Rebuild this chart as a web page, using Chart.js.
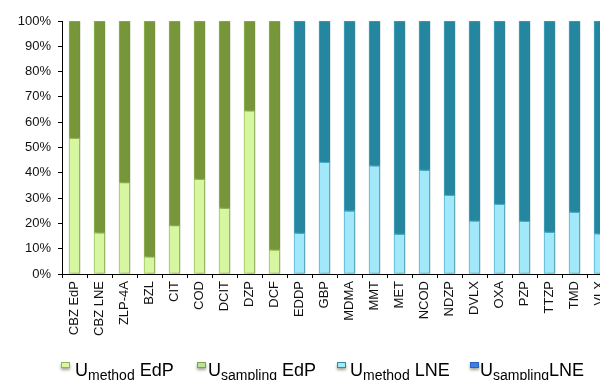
<!DOCTYPE html>
<html>
<head>
<meta charset="utf-8">
<script src="https://cdn.jsdelivr.net/npm/chart.js@4/dist/chart.umd.min.js"></script>
<style>
  html, body { margin: 0; padding: 0; background: #fff; overflow: hidden; width: 600px; height: 380px; }
  #wrap { position: relative; width: 640px; height: 380px; }
  #legend { position: absolute; left: 0; top: 0; width: 600px; height: 380px; pointer-events: none;
            font-family: "Liberation Sans", Arial, sans-serif; color: #000; }
  .item { position: absolute; top: 361px; font-size: 18px; line-height: 18px; white-space: nowrap; }
  .item sub { font-size: 14px; vertical-align: -4px; line-height: 0; }
  .mark { position: absolute; top: 362px; width: 7px; height: 4px; border: 1px solid; 
          box-shadow: 0 2px 3px rgba(40,60,20,0.45); }
</style>
</head>
<body>
<div id="wrap">
  <canvas id="c" width="640" height="380"></canvas>
  <div id="legend">
    <div class="mark" style="left:61px;background:#d9f7a6;border-color:#8fb552;"></div>
    <div class="item" style="left:75px;">U<sub>method</sub> EdP</div>
    <div class="mark" style="left:197px;background:#b9e29a;border-color:#7ea04a;"></div>
    <div class="item" style="left:208px;">U<sub>sampling</sub> EdP</div>
    <div class="mark" style="left:337px;background:#a4e9f9;border-color:#2b8ea6;"></div>
    <div class="item" style="left:350px;">U<sub>method</sub> LNE</div>
    <div class="mark" style="left:470px;background:#3f7fe0;border-color:#2d62c4;"></div>
    <div class="item" style="left:480px;">U<sub>sampling</sub>LNE</div>
  </div>
</div>
<script>
const categories = ["CBZ EdP", "CBZ LNE", "ZLP-4A", "BZL", "CIT", "COD", "DCIT", "DZP", "DCF",
  "EDDP", "GBP", "MDMA", "MMT", "MET", "NCOD", "NDZP", "DVLX", "OXA", "PZP", "TTZP", "TMD", "VLX"];

// share of each uncertainty component, in %
const uMethodEdP   = [53.6, 16.3, 36.1, 6.8, 19.1, 37.4, 26.0, 64.5, 9.5,
  null, null, null, null, null, null, null, null, null, null, null, null, null];
const uSamplingEdP = [46.4, 83.7, 63.9, 93.2, 80.9, 62.6, 74.0, 35.5, 90.5,
  null, null, null, null, null, null, null, null, null, null, null, null, null];
const uMethodLNE   = [null, null, null, null, null, null, null, null, null,
  16.1, 44.1, 24.9, 42.8, 15.7, 41.0, 31.1, 20.9, 27.5, 20.8, 16.5, 24.4, 15.9];
const uSamplingLNE = [null, null, null, null, null, null, null, null, null,
  83.9, 55.9, 75.1, 57.2, 84.3, 59.0, 68.9, 79.1, 72.5, 79.2, 83.5, 75.6, 84.1];

const yTicks = [0, 10, 20, 30, 40, 50, 60, 70, 80, 90, 100];

const font = { family: "'Liberation Sans', Arial, sans-serif", size: 13 };

// soft shadow to the right of every bar
const barShadow = {
  id: 'barShadow',
  beforeDatasetsDraw(chart) {
    const ctx = chart.ctx;
    ctx.save();
    ctx.shadowColor = 'rgba(0,0,0,0.22)';
    ctx.shadowBlur = 2;
    ctx.shadowOffsetX = 2;
    ctx.shadowOffsetY = 0;
  },
  afterDatasetsDraw(chart) {
    chart.ctx.restore();
  }
};

const bar = (label, data, fill, edge) => ({
  label, data, backgroundColor: fill, borderColor: edge, borderWidth: 1,
  borderSkipped: false, barThickness: 11, stack: 's'
});

new Chart(document.getElementById('c'), {
  type: 'bar',
  data: {
    labels: categories,
    datasets: [
      bar('Umethod EdP', uMethodEdP, '#d6f6a0', '#9cc05c'),
      bar('Usampling EdP', uSamplingEdP, '#779539', '#94b854'),
      bar('Umethod LNE', uMethodLNE, '#a1e8fa', '#4eb2cb'),
      bar('Usampling LNE', uSamplingLNE, '#25879f', '#46a6bf')
    ]
  },
  options: {
    responsive: false,
    animation: false,
    events: [],
    layout: { padding: { top: 21, right: 28, left: 0, bottom: 0 } },
    plugins: { legend: { display: false }, tooltip: { enabled: false } },
    scales: {
      x: {
        stacked: true,
        grid: { drawOnChartArea: false, color: '#000', tickLength: 4, offset: true },
        border: { color: '#000', width: 1 },
        ticks: { color: '#111', font, minRotation: 90, maxRotation: 90, padding: 3, autoSkip: false },
        afterFit(scale) { scale.height = 106; }
      },
      y: {
        stacked: true,
        min: 0, max: 100,
        afterBuildTicks(scale) { scale.ticks = yTicks.map(v => ({ value: v })); },
        grid: { drawOnChartArea: false, color: '#000', tickLength: 4 },
        border: { color: '#000', width: 1 },
        ticks: { color: '#111', font, padding: 7, callback: v => v + '%' },
        afterFit(scale) { scale.width = 62; }
      }
    }
  },
  plugins: [barShadow]
});
</script>
</body>
</html>
